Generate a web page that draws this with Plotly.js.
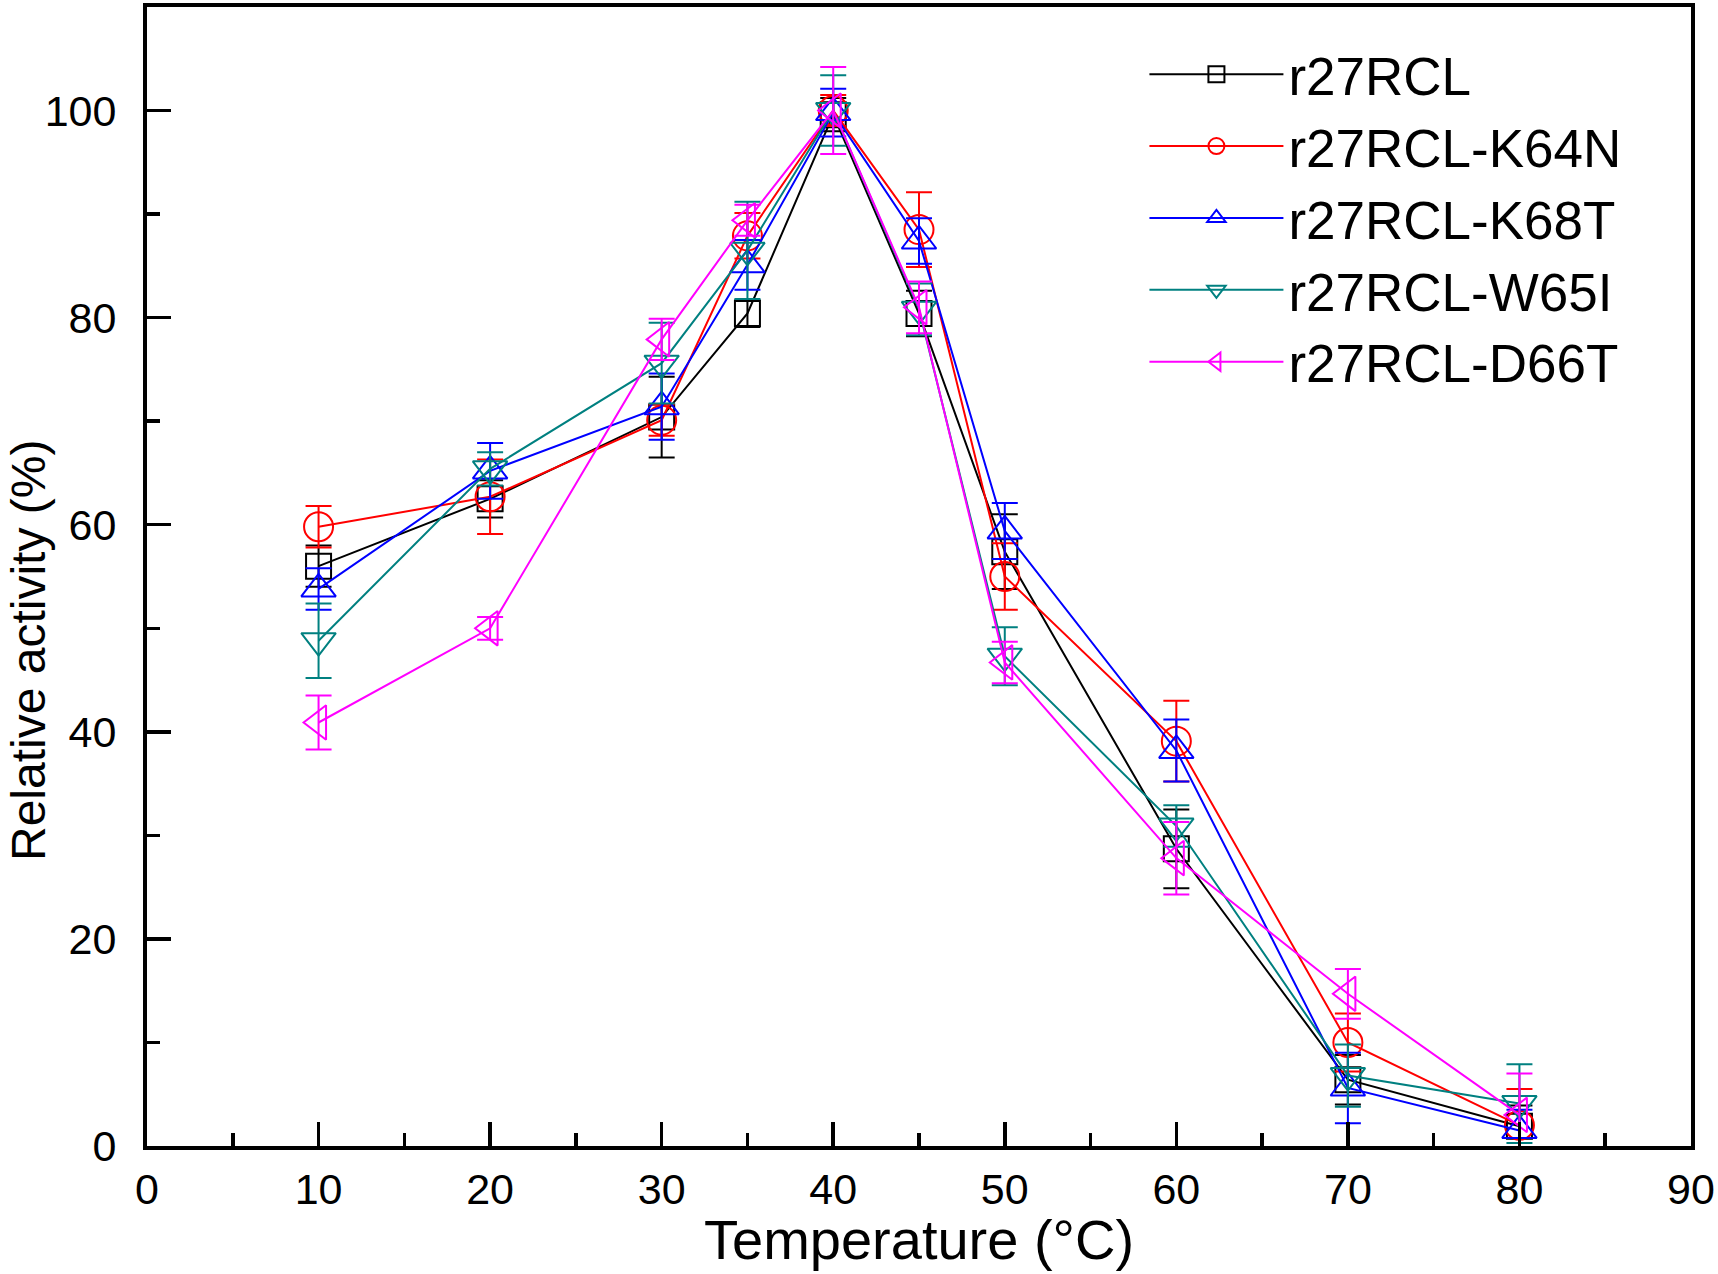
<!DOCTYPE html>
<html>
<head>
<meta charset="utf-8">
<script src="https://cdn.plot.ly/plotly-3.0.1.min.js"></script>
<style>
  html, body { margin: 0; padding: 0; background: #ffffff; }
  #chart { width: 1718px; height: 1274px; }
</style>
</head>
<body>
<div id="chart"></div>
<script>
  // temperatures (°C)
  const TEMPS = [10, 20, 30, 35, 40, 45, 50, 60, 70, 80];

  const WT_Y = [56.0, 62.5, 70.4, 80.4, 99.6, 80.4, 57.4, 28.7, 6.4, 1.9];
  const WT_ERR = [2.0, 1.8, 3.9, 1.3, 1.6, 2.2, 3.6, 3.8, 2.4, 2.0];

  const K64N_Y = [59.8, 62.7, 70.1, 87.9, 100.0, 88.5, 55.0, 39.1, 10.0, 2.0];
  const K64N_ERR = [2.0, 3.6, 1.5, 2.2, 1.5, 3.6, 3.2, 3.9, 2.8, 3.5];

  const K68T_Y = [53.8, 65.2, 71.4, 85.1, 99.8, 87.4, 59.4, 38.2, 5.6, 1.5];
  const K68T_ERR = [2.0, 2.7, 3.2, 2.4, 2.3, 2.2, 2.7, 3.0, 3.4, 2.0];

  const W65I_Y = [48.8, 65.4, 75.6, 86.5, 100.0, 80.8, 47.3, 30.9, 6.8, 4.1];
  const W65I_ERR = [3.6, 1.6, 3.9, 4.7, 3.4, 2.5, 2.8, 2.0, 3.0, 3.8];

  const D66T_Y = [40.9, 50.0, 77.9, 89.4, 100.0, 81.0, 46.7, 27.8, 14.7, 3.0];
  const D66T_ERR = [2.6, 1.1, 2.0, 1.5, 4.2, 2.5, 2.0, 3.5, 2.4, 4.0];

  const NAMES = ['r27RCL', 'r27RCL-K64N', 'r27RCL-K68T', 'r27RCL-W65I', 'r27RCL-D66T'];
  const COLORS = ['#000000', '#ff0000', '#0000ff', '#008080', '#ff00ff'];
  const SYMBOLS = ['square-open', 'circle-open', 'triangle-up-open', 'triangle-down-open', 'triangle-left-open'];
  const SIZES = [25, 29, 30, 30, 30];

  const FONT = 'Liberation Sans, Arial, sans-serif';

  const series = [
    [WT_Y, WT_ERR],
    [K64N_Y, K64N_ERR],
    [K68T_Y, K68T_ERR],
    [W65I_Y, W65I_ERR],
    [D66T_Y, D66T_ERR]
  ];

  const traces = series.map(([y, err], i) => ({
    x: TEMPS,
    y: y,
    name: NAMES[i],
    type: 'scatter',
    mode: 'lines+markers',
    line: { color: COLORS[i], width: 2 },
    marker: {
      symbol: SYMBOLS[i],
      size: SIZES[i],
      color: COLORS[i],
      line: { color: COLORS[i], width: 2 }
    },
    error_y: {
      type: 'data',
      array: err,
      visible: true,
      color: COLORS[i],
      thickness: 2,
      width: 13
    }
  }));

  const axisCommon = {
    showline: true,
    linecolor: '#000000',
    linewidth: 4,
    mirror: true,
    showgrid: false,
    zeroline: false,
    ticks: 'inside',
    ticklen: 24,
    tickwidth: 3.5,
    tickcolor: '#000000',
    tickfont: { family: FONT, size: 43, color: '#000000' }
  };

  const layout = {
    width: 1718,
    height: 1274,
    paper_bgcolor: '#ffffff',
    plot_bgcolor: '#ffffff',
    font: { family: FONT, color: '#000000' },
    margin: { l: 147, r: 27, t: 7, b: 128 },
    showlegend: true,
    legend: {
      x: 0.646,
      y: 0.977,
      xanchor: 'left',
      yanchor: 'top',
      bgcolor: 'rgba(0,0,0,0)',
      borderwidth: 0,
      font: { family: FONT, size: 53, color: '#000000' },
      itemwidth: 134,
      traceorder: 'normal'
    },
    xaxis: Object.assign({}, axisCommon, {
      range: [0, 90],
      dtick: 10,
      tick0: 0,
      ticklabelstandoff: 2,
      minor: { dtick: 5, ticks: 'inside', ticklen: 13, tickwidth: 3.5, tickcolor: '#000000' }
    }),
    yaxis: Object.assign({}, axisCommon, {
      range: [0, 110],
      tickvals: [0, 20, 40, 60, 80, 100],
      ticklabelstandoff: 18,
      minor: { tickvals: [10, 30, 50, 70, 90], ticks: 'inside', ticklen: 13, tickwidth: 3.5, tickcolor: '#000000' }
    }),
    annotations: [
      {
        text: 'Temperature (°C)',
        xref: 'paper',
        yref: 'paper',
        x: 0.5,
        y: -0.1115,
        xanchor: 'center',
        yanchor: 'bottom',
        showarrow: false,
        font: { family: FONT, size: 56, color: '#000000' }
      },
      {
        text: 'Relative activity (%)',
        xref: 'paper',
        yref: 'paper',
        x: -0.0764,
        y: 0.4346,
        xanchor: 'center',
        yanchor: 'middle',
        textangle: -90,
        showarrow: false,
        font: { family: FONT, size: 48, color: '#000000' }
      }
    ]
  };

  Plotly.newPlot('chart', traces, layout, { displayModeBar: false, staticPlot: true });
</script>
</body>
</html>
